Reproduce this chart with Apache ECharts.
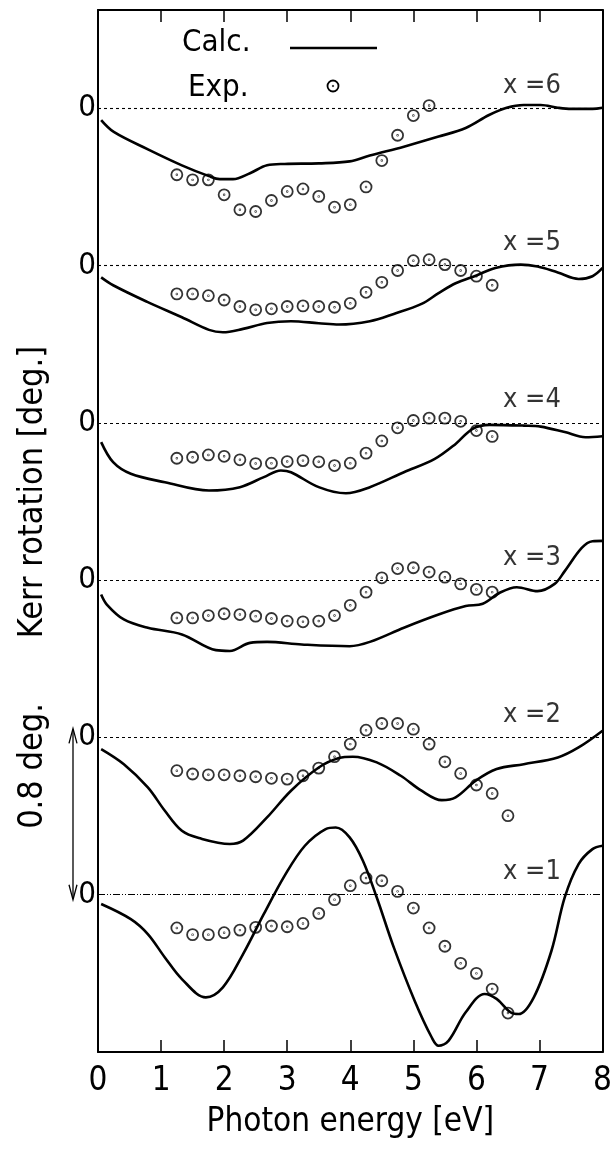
<!DOCTYPE html>
<html>
<head>
<meta charset="utf-8">
<script src="https://cdn.jsdelivr.net/npm/echarts@6/dist/echarts.min.js"></script>
<style>
html,body{margin:0;padding:0;background:#fff;}
#main{width:615px;height:1149px;}
</style>
</head>
<body>
<div id="main"></div>
<script>
// ---- data (Kerr rotation in degrees, each curve relative to its own zero) ----
const xTicks = [0, 1, 2, 3, 4, 5, 6, 7, 8];
const compositions = [1, 2, 3, 4, 5, 6];
const offsetStep = 0.8; // vertical offset between curves (deg.)

const expEnergy = [1.25, 1.5, 1.75, 2.0, 2.25, 2.5, 2.75, 3.0, 3.25, 3.5, 3.75, 4.0,
  4.25, 4.5, 4.75, 5.0, 5.25, 5.5, 5.75, 6.0, 6.25, 6.5];

const calc1 = [[0.05,-0.047],[0.52,-0.124],[0.79,-0.2],[1.06,-0.319],[1.33,-0.429],[1.71,-0.522],[1.98,-0.471],[2.3,-0.302],[2.63,-0.098],[2.96,0.097],[3.28,0.249],[3.61,0.334],[3.77,0.342],[3.99,0.292],[4.2,0.173],[4.42,-0.014],[4.69,-0.268],[5.02,-0.539],[5.29,-0.725],[5.4,-0.768],[5.56,-0.742],[5.83,-0.598],[6.13,-0.505],[6.32,-0.53],[6.54,-0.598],[6.67,-0.607],[6.91,-0.522],[7.19,-0.285],[7.4,-0.014],[7.62,0.156],[7.84,0.232],[8.0,0.249]];
const calc2 = [[0.05,-0.059],[0.41,-0.136],[0.79,-0.254],[1.06,-0.373],[1.33,-0.475],[1.6,-0.512],[2.09,-0.542],[2.3,-0.525],[2.68,-0.407],[3.06,-0.271],[3.5,-0.153],[3.82,-0.105],[4.04,-0.098],[4.42,-0.127],[4.8,-0.195],[5.13,-0.271],[5.45,-0.319],[5.67,-0.305],[5.99,-0.22],[6.32,-0.161],[6.75,-0.136],[7.29,-0.102],[7.62,-0.051],[8.0,0.034]];
const calc3 = [[0.05,-0.073],[0.14,-0.124],[0.41,-0.2],[0.79,-0.242],[1.33,-0.276],[1.87,-0.356],[2.09,-0.36],[2.41,-0.319],[2.68,-0.314],[3.23,-0.327],[3.99,-0.336],[4.31,-0.314],[4.85,-0.242],[5.4,-0.175],[5.83,-0.132],[6.1,-0.12],[6.37,-0.064],[6.64,-0.036],[6.97,-0.056],[7.24,-0.019],[7.4,0.046],[7.67,0.164],[7.84,0.198],[8.0,0.2]];
const calc4 = [[0.05,-0.098],[0.24,-0.2],[0.52,-0.259],[1.06,-0.302],[1.76,-0.344],[2.25,-0.327],[2.63,-0.276],[2.9,-0.242],[3.06,-0.251],[3.5,-0.327],[3.93,-0.358],[4.31,-0.327],[4.85,-0.251],[5.34,-0.183],[5.67,-0.107],[5.94,-0.03],[6.21,-0.01],[6.75,-0.014],[7.02,-0.019],[7.4,-0.047],[7.73,-0.073],[8.0,-0.068]];
const calc5 = [[0.05,-0.06],[0.24,-0.1],[0.79,-0.186],[1.33,-0.263],[1.76,-0.327],[1.98,-0.339],[2.3,-0.322],[2.68,-0.292],[3.06,-0.283],[3.5,-0.293],[3.82,-0.3],[4.31,-0.283],[4.69,-0.246],[5.13,-0.195],[5.4,-0.14],[5.67,-0.09],[6.0,-0.05],[6.3,-0.012],[6.7,0.005],[6.97,-0.005],[7.29,-0.035],[7.62,-0.068],[7.84,-0.054],[8.0,-0.012]];
const calc6 = [[0.05,-0.06],[0.25,-0.12],[0.8,-0.21],[1.33,-0.29],[1.76,-0.345],[1.93,-0.36],[2.14,-0.36],[2.41,-0.33],[2.68,-0.29],[2.96,-0.283],[3.5,-0.28],[3.99,-0.27],[4.31,-0.24],[4.85,-0.195],[5.4,-0.144],[5.83,-0.1],[6.2,-0.034],[6.48,0.003],[6.75,0.017],[7.02,0.017],[7.29,0.003],[7.5,-0.003],[7.84,-0.003],[8.0,0.003]];

const exp1 = [-0.169,-0.203,-0.203,-0.193,-0.18,-0.166,-0.159,-0.163,-0.146,-0.095,-0.025,0.046,0.085,0.071,0.017,-0.068,-0.169,-0.262,-0.349,-0.4,-0.48,-0.602];
const exp2 = [-0.169,-0.186,-0.19,-0.19,-0.195,-0.2,-0.208,-0.212,-0.195,-0.156,-0.098,-0.034,0.037,0.071,0.071,0.042,-0.034,-0.124,-0.183,-0.242,-0.285,-0.398];
const exp3 = [-0.192,-0.192,-0.18,-0.171,-0.175,-0.183,-0.195,-0.208,-0.212,-0.208,-0.18,-0.128,-0.061,0.012,0.059,0.063,0.041,0.015,-0.019,-0.047,-0.061];
const exp4 = [-0.18,-0.175,-0.163,-0.17,-0.188,-0.207,-0.205,-0.197,-0.192,-0.198,-0.217,-0.205,-0.154,-0.092,-0.025,0.012,0.024,0.024,0.008,-0.039,-0.069];
const exp5 = [-0.144,-0.144,-0.153,-0.175,-0.208,-0.225,-0.22,-0.208,-0.205,-0.208,-0.212,-0.192,-0.136,-0.085,-0.025,0.025,0.03,0.005,-0.025,-0.054,-0.1];
const exp6 = [-0.338,-0.364,-0.364,-0.44,-0.516,-0.525,-0.469,-0.423,-0.41,-0.448,-0.503,-0.49,-0.4,-0.266,-0.137,-0.037,0.014];

const calcSets = [calc1, calc2, calc3, calc4, calc5, calc6];
const expSets = [exp1, exp2, exp3, exp4, exp5, exp6];

// ---- build ----
const FONT = "'DejaVu Sans Condensed', 'Liberation Sans Narrow', 'Liberation Sans', Arial, sans-serif";
const chart = echarts.init(document.getElementById('main'), null, {renderer: 'canvas'});
const dotCircle = 'path://M0,-10A10,10 0 1,1 0,10A10,10 0 1,1 0,-10ZM0,-0.6A0.6,0.6 0 1,1 0,0.6A0.6,0.6 0 1,1 0,-0.6Z';
const offsets = compositions.map((c, i) => i * offsetStep);

const series = [];
compositions.forEach((c, i) => {
  const off = offsets[i];
  series.push({
    name: 'Calc.', type: 'line', smooth: 0.35, symbol: 'none',
    data: calcSets[i].map(p => [p[0], p[1] + off]),
    lineStyle: {color: '#000', width: 2.6},
    z: 3,
    markLine: {
      silent: true, symbol: 'none', label: {show: false},
      lineStyle: {color: '#000', width: 1.1, type: i === 0 ? [7, 2, 1, 2, 1, 2] : [3, 3]},
      data: [{yAxis: off}]
    }
  });
  series.push({
    name: 'Exp.', type: 'scatter', symbol: dotCircle, symbolSize: 11,
    data: expSets[i].map((v, k) => [expEnergy[k], v + off]),
    itemStyle: {color: 'rgba(0,0,0,0)', borderColor: '#000', borderWidth: 1.8},
    z: 4
  });
});
series.push({
  name: 'labels', type: 'scatter', symbolSize: 0, silent: true,
  data: compositions.map((c, i) => ({value: [6.88, offsets[i] + 0.115], name: 'x =' + c})),
  label: {show: true, position: 'inside', formatter: p => p.name, color: '#000',
    fontFamily: FONT, fontSize: 27}
});

const axisLineStyle = {show: true, onZero: false, lineStyle: {color: '#000', width: 2}};

chart.setOption({
  animation: false,
  backgroundColor: '#fff',
  grid: {left: 98, right: 12, top: 10, bottom: 97, containLabel: false},
  xAxis: [{
    type: 'value', min: 0, max: 8, interval: 1, position: 'bottom',
    axisLine: axisLineStyle,
    axisTick: {show: true, inside: true, length: 12, lineStyle: {color: '#000', width: 1.5}},
    splitLine: {show: false},
    axisLabel: {color: '#000', fontFamily: FONT, fontSize: 33, margin: 13,
      formatter: v => xTicks.indexOf(v) >= 0 ? String(v) : ''},
    name: 'Photon energy [eV]', nameLocation: 'middle', nameGap: 54,
    nameTextStyle: {color: '#000', fontFamily: FONT, fontSize: 33}
  }, {
    type: 'value', min: 0, max: 8, interval: 1, position: 'top',
    axisLine: axisLineStyle,
    axisTick: {show: true, inside: true, length: 12, lineStyle: {color: '#000', width: 1.5}},
    axisLabel: {show: false}, splitLine: {show: false}
  }],
  yAxis: [{
    type: 'value', min: -0.8, max: 4.5, interval: 0.8, position: 'left',
    axisLine: axisLineStyle,
    axisTick: {show: false}, splitLine: {show: false},
    axisLabel: {color: '#000', fontFamily: FONT, fontSize: 31, margin: 2,
      formatter: v => offsets.some(o => Math.abs(o - v) < 1e-6) ? '0' : ''}
  }, {
    type: 'value', min: -0.8, max: 4.5, interval: 0.8, position: 'right',
    axisLine: axisLineStyle,
    axisTick: {show: false}, axisLabel: {show: false}, splitLine: {show: false}
  }],
  series: series
});

// ---- annotations: legend, y title, scale arrow ----
const yTop = chart.convertToPixel({yAxisIndex: 0}, offsets[1]);
const yBot = chart.convertToPixel({yAxisIndex: 0}, offsets[0]);
const ax = 73;
chart.setOption({
  graphic: [
    {type: 'text', x: 182, y: 43, style: {text: 'Calc.', font: '31px ' + FONT, fill: '#000', verticalAlign: 'middle'}},
    {type: 'line', shape: {x1: 290, y1: 48, x2: 377, y2: 48}, style: {stroke: '#000', lineWidth: 2.6}},
    {type: 'text', x: 188, y: 88, style: {text: 'Exp.', font: '31px ' + FONT, fill: '#000', verticalAlign: 'middle'}},
    {type: 'circle', shape: {cx: 333, cy: 86, r: 5.5}, style: {fill: 'none', stroke: '#000', lineWidth: 1.8}},
    {type: 'circle', shape: {cx: 333, cy: 86, r: 0.8}, style: {fill: '#000', stroke: '#000', lineWidth: 0.5}},
    {type: 'text', x: 33, y: 492, rotation: Math.PI / 2,
      style: {text: 'Kerr rotation [deg.]', font: '34px ' + FONT, fill: '#000', align: 'center', verticalAlign: 'middle'}},
    {type: 'text', x: 33, y: 766, rotation: Math.PI / 2,
      style: {text: '0.8 deg.', font: '34px ' + FONT, fill: '#000', align: 'center', verticalAlign: 'middle'}},
    {type: 'line', shape: {x1: ax, y1: yTop - 8, x2: ax, y2: yBot + 4}, style: {stroke: '#000', lineWidth: 1.3}},
    {type: 'polyline', shape: {points: [[ax - 4, yTop + 6], [ax, yTop - 9], [ax + 4, yTop + 6]]}, style: {stroke: '#000', fill: 'none', lineWidth: 1.3}},
    {type: 'polyline', shape: {points: [[ax - 4, yBot - 10], [ax, yBot + 5], [ax + 4, yBot - 10]]}, style: {stroke: '#000', fill: 'none', lineWidth: 1.3}}
  ]
});
</script>
</body>
</html>
